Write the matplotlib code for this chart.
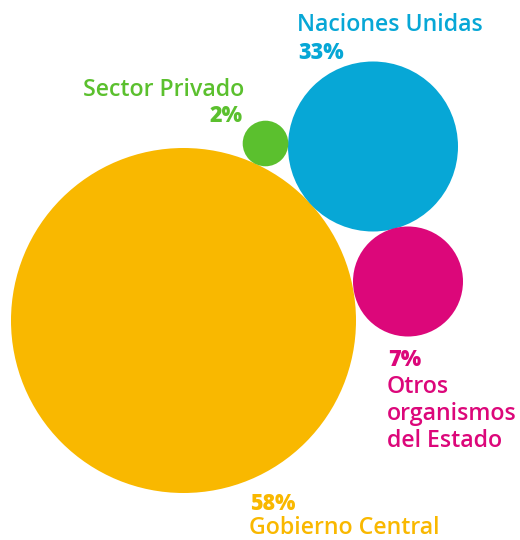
import matplotlib
matplotlib.use("Agg")
import matplotlib.pyplot as plt
from matplotlib.patches import Circle

# ---- data ----
categories = ["Gobierno Central", "Naciones Unidas", "Otros\norganismos\ndel Estado", "Sector Privado"]
values = [58, 33, 7, 2]
colors = ["#F9B800", "#07A7D6", "#DC077A", "#5BC02E"]

# ---- layout (pixel coordinates, y downward) ----
centers = [(183.5, 320.5), (373, 146.5), (408, 281.5), (265.5, 143.5)]
radii = [172.5, 85, 55, 22.8]

plt.rcParams['font.family'] = ['Open Sans', 'DejaVu Sans']

fig = plt.figure(figsize=(5.2, 5.4), dpi=100)
ax = fig.add_axes([0, 0, 1, 1])
ax.set_xlim(0, 520)
ax.set_ylim(540, 0)
ax.set_aspect('equal')
ax.axis('off')

for (cx, cy), r, c in zip(centers, radii, colors):
    ax.add_patch(Circle((cx, cy), r, facecolor=c, edgecolor='none'))

fs = 16.7
pfs = 15.5
lh = 27
nw = 'semibold'
bw = 'heavy'

def pct(v):
    return f"{v}%"

# Naciones Unidas: name then pct
ax.text(297, 31, categories[1], color=colors[1], fontsize=fs, fontweight=nw, va='baseline', ha='left')
ax.text(298, 59, pct(values[1]), color=colors[1], fontsize=pfs, fontweight=bw, va='baseline', ha='left')

# Sector Privado: name then pct, right-aligned
ax.text(244, 96, categories[3], color=colors[3], fontsize=fs, fontweight=nw, va='baseline', ha='right')
ax.text(243, 122, pct(values[3]), color=colors[3], fontsize=pfs, fontweight=bw, va='baseline', ha='right')

# Otros organismos: pct then name
ax.text(388, 366, pct(values[2]), color=colors[2], fontsize=pfs, fontweight=bw, va='baseline', ha='left')
for i, line in enumerate(categories[2].split("\n")):
    ax.text(387, 393 + i * lh, line, color=colors[2], fontsize=fs, fontweight=nw, va='baseline', ha='left')

# Gobierno Central: pct then name
ax.text(250, 510, pct(values[0]), color=colors[0], fontsize=pfs, fontweight=bw, va='baseline', ha='left')
ax.text(249, 534, categories[0], color=colors[0], fontsize=fs, fontweight=nw, va='baseline', ha='left')

fig.savefig("out.png", dpi=100)
